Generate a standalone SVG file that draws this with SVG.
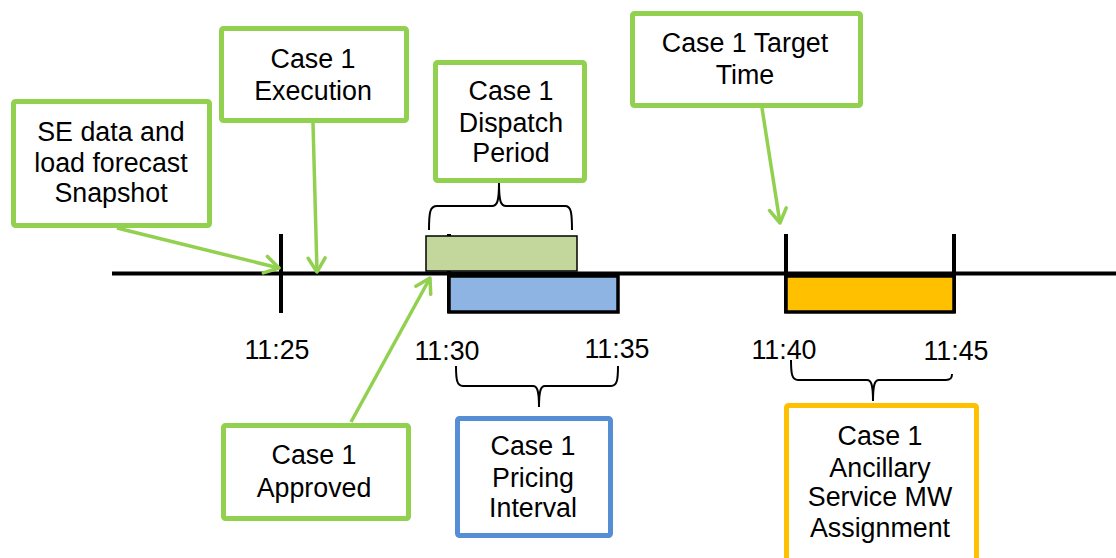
<svg xmlns="http://www.w3.org/2000/svg" width="1116" height="558" viewBox="0 0 1116 558">
<style>
text{font-family:"Liberation Sans",Arial,sans-serif;font-size:26.8px;fill:#000;text-anchor:middle}
.gbox{fill:#fff;stroke:#92D050;stroke-width:5}
.bbox{fill:#fff;stroke:#558ED5;stroke-width:5}
.ybox{fill:#fff;stroke:#FFC000;stroke-width:5}
.arrow{stroke:#92D050;stroke-width:3.5;fill:none;marker-end:url(#ah)}
.brace{stroke:#000;stroke-width:2;fill:none}
.tick{stroke:#000;stroke-width:4}
</style>
<defs>
<marker id="ah" markerUnits="userSpaceOnUse" markerWidth="24" markerHeight="24" viewBox="0 0 24 24" refX="19" refY="12" orient="auto">
<path d="M5,3.5 L19,12 L5,20.5" fill="none" stroke="#92D050" stroke-width="3.5" stroke-linecap="round" stroke-linejoin="round"/>
</marker>
</defs>
<g id="timeline">
<line x1="112" y1="273.5" x2="1116" y2="273.5" stroke="#000" stroke-width="4"/>
<line class="tick" x1="281" y1="234" x2="281" y2="313"/>
<line class="tick" x1="449" y1="234" x2="449" y2="313"/>
<line class="tick" x1="786" y1="234" x2="786" y2="313"/>
<line class="tick" x1="954" y1="234" x2="954" y2="313"/>
</g>
<g id="dispatch-bar"><rect x="426" y="236" width="151" height="35" fill="#C3D69B" stroke="#000" stroke-width="1.5"/></g>
<g id="pricing-bar"><rect x="449" y="276" width="169" height="36" fill="#8EB4E3" stroke="#000" stroke-width="3.5"/></g>
<g id="as-bar"><rect x="786" y="276" width="168" height="36" fill="#FFC000" stroke="#000" stroke-width="3.5"/></g>
<g id="labels">
<text x="277" y="359">11:25</text>
<text x="447" y="360">11:30</text>
<text x="617" y="358">11:35</text>
<text x="784" y="359">11:40</text>
<text x="956" y="360">11:45</text>
</g>
<g id="braces">
<path class="brace" d="M429,230 C429,212 430,206 437,206 L492,206 C497,206 499,202 499,183 C499,202 501,206 506,206 L565,206 C571,206 572,212 572,230"/>
<path class="brace" d="M456,366 C456,380 457,386 463,386 L533,386 C537,386 539,390 539,407 C539,390 541,386 545,386 L611,386 C617,386 618,380 618,366"/>
<path class="brace" d="M791,360 C791,374 792,380 798,380 L867,380 C871,380 873,384 873,401 C873,384 875,380 879,380 L946,380 C951,380 952,378 952,374"/>
</g>
<g id="se-snapshot">
<rect class="gbox" x="13.5" y="101.5" width="196" height="124" rx="2"/>
<text x="111" y="141">SE data and</text>
<text x="111" y="172">load forecast</text>
<text x="111" y="202">Snapshot</text>
</g>
<g id="execution">
<rect class="gbox" x="221.5" y="28.5" width="185" height="92" rx="2"/>
<text x="313" y="68">Case 1</text>
<text x="313" y="100">Execution</text>
</g>
<g id="dispatch-period">
<rect class="gbox" x="435.5" y="62.5" width="149" height="118" rx="2"/>
<text x="511" y="100">Case 1</text>
<text x="511" y="132">Dispatch</text>
<text x="511" y="162">Period</text>
</g>
<g id="target-time">
<rect class="gbox" x="632.5" y="13.5" width="228" height="92" rx="2"/>
<text x="745" y="52">Case 1  Target</text>
<text x="745" y="84">Time</text>
</g>
<g id="approved">
<rect class="gbox" x="223.5" y="425.5" width="185" height="93" rx="2"/>
<text x="314" y="464">Case 1</text>
<text x="314" y="497">Approved</text>
</g>
<g id="pricing-interval">
<rect class="bbox" x="457.5" y="418.5" width="153" height="117" rx="2"/>
<text x="533" y="455">Case 1</text>
<text x="533" y="487">Pricing</text>
<text x="533" y="517">Interval</text>
</g>
<g id="as-assignment">
<rect class="ybox" x="786.5" y="405.5" width="190" height="170" rx="2"/>
<text x="880" y="445">Case 1</text>
<text x="880" y="477">Ancillary</text>
<text x="880" y="506">Service MW</text>
<text x="880" y="537">Assignment</text>
</g>
<g id="connectors">
<line class="arrow" x1="117" y1="228" x2="279" y2="268"/>
<line class="arrow" x1="313" y1="123" x2="317" y2="272"/>
<line class="arrow" x1="762" y1="108" x2="780" y2="223"/>
<line class="arrow" x1="351" y1="422" x2="430" y2="278"/>
</g>
</svg>
